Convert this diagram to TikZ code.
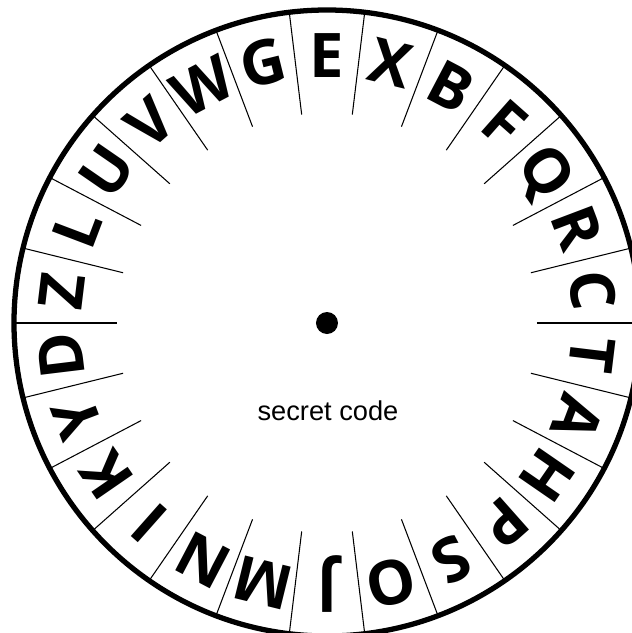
\documentclass[tikz,border=0pt]{standalone}
\usepackage{fontspec}
\setmainfont{Liberation Sans}
\newfontfamily\wheelfont{Open Sans}
\usetikzlibrary{calc}

\begin{document}
\begin{tikzpicture}[
        wheel/.style={line width=3pt},
        divider/.style={line width=0.6pt},
        letter/.style={font=\wheelfont\bfseries\fontsize{35}{35}\selectfont,
            inner sep=0pt, text height=25pt, text depth=0pt, anchor=center},
        hub/.style={circle, fill=black, minimum size=0.44cm, inner sep=0pt},
        caption/.style={font=\fontsize{15.5}{18}\selectfont, inner sep=0pt},
    ]
    \clip (-6.54,-6.2) rectangle (6.1,6.46);
    \useasboundingbox (-6.54,-6.2) rectangle (6.1,6.46);
    % outer rim
    \draw[wheel] (0,0) circle (6.26);
    % dividers between the letters
    \foreach \k in {0,...,25}
        \draw[divider] (\k*360/26:4.2) -- (\k*360/26:6.26);
    % letters, clockwise from the top
    \foreach \ch [count=\i, evaluate=\i as \ang using 90-(\i-1)*360/26]
        in {E,X,B,F,Q,R,C,T,A,H,P,S,O,J,M,N,I,K,Y,D,Z,L,U,V,W,G}
        \node[letter, rotate=\ang-90] (l\i) at (\ang:5.35) {\ch};
    \node[hub] (hub) at (0,0) {};
    \node[caption] (code) at (0.02,-1.76) {secret code};
\end{tikzpicture}
\end{document}
